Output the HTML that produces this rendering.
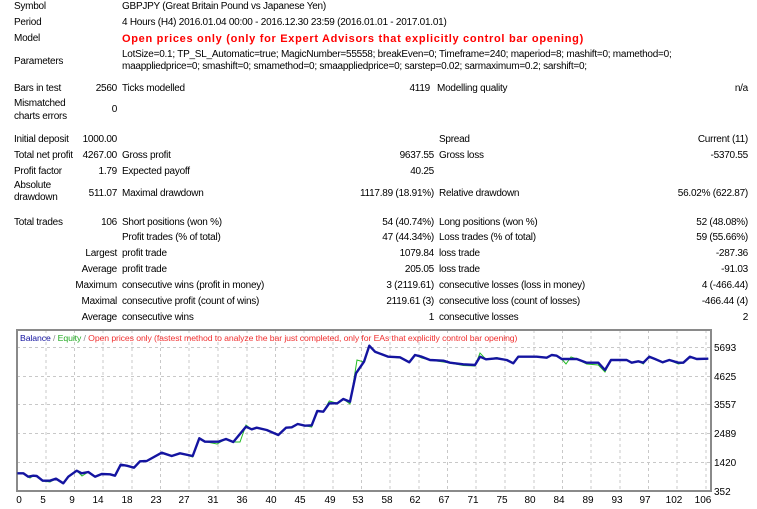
<!DOCTYPE html>
<html><head><meta charset="utf-8"><style>
body{margin:0;width:757px;height:509px;background:#fff;position:relative;overflow:hidden;font-family:"Liberation Sans",sans-serif;font-size:10px;letter-spacing:-0.25px;color:#000}
.t{position:absolute;line-height:14px;white-space:nowrap}
.r{text-align:right}
.red{color:#f00;font-weight:bold;font-size:11px;letter-spacing:0.7px}
</style></head><body>
<div class="t" style="left:14px;top:0">Symbol</div>
<div class="t" style="left:122px;top:0">GBPJPY (Great Britain Pound vs Japanese Yen)</div>
<div class="t" style="left:14px;top:16px">Period</div>
<div class="t" style="left:122px;top:16px">4 Hours (H4) 2016.01.04 00:00 - 2016.12.30 23:59 (2016.01.01 - 2017.01.01)</div>
<div class="t" style="left:14px;top:32px">Model</div>
<div class="t red" style="left:122px;top:32px">Open prices only (only for Expert Advisors that explicitly control bar opening)</div>
<div class="t" style="left:14px;top:55px">Parameters</div>
<div class="t" style="left:122px;top:48px">LotSize=0.1; TP_SL_Automatic=true; MagicNumber=55558; breakEven=0; Timeframe=240; maperiod=8; mashift=0; mamethod=0;</div>
<div class="t" style="left:122px;top:60px">maappliedprice=0; smashift=0; smamethod=0; smaappliedprice=0; sarstep=0.02; sarmaximum=0.2; sarshift=0;</div>
<div class="t" style="left:14px;top:82px">Bars in test</div>
<div class="t r" style="right:640px;top:82px">2560</div>
<div class="t" style="left:122px;top:82px">Ticks modelled</div>
<div class="t r" style="right:327px;top:82px">4119</div>
<div class="t" style="left:437px;top:82px">Modelling quality</div>
<div class="t r" style="right:9px;top:82px">n/a</div>
<div class="t" style="left:14px;top:97px;line-height:13px">Mismatched<br>charts errors</div>
<div class="t r" style="right:640px;top:103px">0</div>

<div class="t" style="left:14px;top:133px">Initial deposit</div>
<div class="t r" style="right:640px;top:133px">1000.00</div>
<div class="t" style="left:439px;top:133px">Spread</div>
<div class="t r" style="right:9px;top:133px">Current (11)</div>

<div class="t" style="left:14px;top:149px">Total net profit</div>
<div class="t r" style="right:640px;top:149px">4267.00</div>
<div class="t" style="left:122px;top:149px">Gross profit</div>
<div class="t r" style="right:323px;top:149px">9637.55</div>
<div class="t" style="left:439px;top:149px">Gross loss</div>
<div class="t r" style="right:9px;top:149px">-5370.55</div>

<div class="t" style="left:14px;top:165px">Profit factor</div>
<div class="t r" style="right:640px;top:165px">1.79</div>
<div class="t" style="left:122px;top:165px">Expected payoff</div>
<div class="t r" style="right:323px;top:165px">40.25</div>

<div class="t" style="left:14px;top:180px;line-height:12px">Absolute<br>drawdown</div>
<div class="t r" style="right:640px;top:187px">511.07</div>
<div class="t" style="left:122px;top:187px">Maximal drawdown</div>
<div class="t r" style="right:323px;top:187px">1117.89 (18.91%)</div>
<div class="t" style="left:439px;top:187px">Relative drawdown</div>
<div class="t r" style="right:9px;top:187px">56.02% (622.87)</div>

<div class="t" style="left:14px;top:216px">Total trades</div>
<div class="t r" style="right:640px;top:216px">106</div>
<div class="t" style="left:122px;top:216px">Short positions (won %)</div>
<div class="t r" style="right:323px;top:216px">54 (40.74%)</div>
<div class="t" style="left:439px;top:216px">Long positions (won %)</div>
<div class="t r" style="right:9px;top:216px">52 (48.08%)</div>

<div class="t" style="left:122px;top:231px">Profit trades (% of total)</div>
<div class="t r" style="right:323px;top:231px">47 (44.34%)</div>
<div class="t" style="left:439px;top:231px">Loss trades (% of total)</div>
<div class="t r" style="right:9px;top:231px">59 (55.66%)</div>

<div class="t r" style="right:640px;top:247px">Largest</div>
<div class="t" style="left:122px;top:247px">profit trade</div>
<div class="t r" style="right:323px;top:247px">1079.84</div>
<div class="t" style="left:439px;top:247px">loss trade</div>
<div class="t r" style="right:9px;top:247px">-287.36</div>

<div class="t r" style="right:640px;top:263px">Average</div>
<div class="t" style="left:122px;top:263px">profit trade</div>
<div class="t r" style="right:323px;top:263px">205.05</div>
<div class="t" style="left:439px;top:263px">loss trade</div>
<div class="t r" style="right:9px;top:263px">-91.03</div>

<div class="t r" style="right:640px;top:279px">Maximum</div>
<div class="t" style="left:122px;top:279px">consecutive wins (profit in money)</div>
<div class="t r" style="right:323px;top:279px">3 (2119.61)</div>
<div class="t" style="left:439px;top:279px">consecutive losses (loss in money)</div>
<div class="t r" style="right:9px;top:279px">4 (-466.44)</div>

<div class="t r" style="right:640px;top:295px">Maximal</div>
<div class="t" style="left:122px;top:295px">consecutive profit (count of wins)</div>
<div class="t r" style="right:323px;top:295px">2119.61 (3)</div>
<div class="t" style="left:439px;top:295px">consecutive loss (count of losses)</div>
<div class="t r" style="right:9px;top:295px">-466.44 (4)</div>

<div class="t r" style="right:640px;top:311px">Average</div>
<div class="t" style="left:122px;top:311px">consecutive wins</div>
<div class="t r" style="right:323px;top:311px">1</div>
<div class="t" style="left:439px;top:311px">consecutive losses</div>
<div class="t r" style="right:9px;top:311px">2</div>

<svg width="757" height="509" style="position:absolute;left:0;top:0;letter-spacing:0" xmlns="http://www.w3.org/2000/svg">
<g stroke="#c8c8c8" stroke-dasharray="3,3" stroke-width="1">
<line x1="17" x2="711" y1="347.5" y2="347.5"/><line x1="17" x2="711" y1="376.5" y2="376.5"/><line x1="17" x2="711" y1="404.5" y2="404.5"/><line x1="17" x2="711" y1="433.5" y2="433.5"/><line x1="17" x2="711" y1="462.5" y2="462.5"/>
<line x1="46" x2="46" y1="330" y2="491"/><line x1="74.5" x2="74.5" y1="330" y2="491"/><line x1="103" x2="103" y1="330" y2="491"/><line x1="132" x2="132" y1="330" y2="491"/><line x1="160.5" x2="160.5" y1="330" y2="491"/><line x1="189" x2="189" y1="330" y2="491"/><line x1="218" x2="218" y1="330" y2="491"/><line x1="247" x2="247" y1="330" y2="491"/><line x1="275.5" x2="275.5" y1="330" y2="491"/><line x1="304" x2="304" y1="330" y2="491"/><line x1="333" x2="333" y1="330" y2="491"/><line x1="361.5" x2="361.5" y1="330" y2="491"/><line x1="390" x2="390" y1="330" y2="491"/><line x1="419" x2="419" y1="330" y2="491"/><line x1="447.5" x2="447.5" y1="330" y2="491"/><line x1="476" x2="476" y1="330" y2="491"/><line x1="505" x2="505" y1="330" y2="491"/><line x1="534" x2="534" y1="330" y2="491"/><line x1="562.5" x2="562.5" y1="330" y2="491"/><line x1="591" x2="591" y1="330" y2="491"/><line x1="620" x2="620" y1="330" y2="491"/><line x1="648.5" x2="648.5" y1="330" y2="491"/><line x1="677" x2="677" y1="330" y2="491"/><line x1="706" x2="706" y1="330" y2="491"/>
</g>
<rect x="17" y="330" width="694" height="161" fill="none" stroke="#8a8a8a" stroke-width="2"/>
<polyline fill="none" stroke="#22bb22" stroke-width="1" points="17.3,473.3 23.3,473.3 30,478 33.3,475.7 36.7,476 42.7,481 50,482 56,478.7 63.3,483.3 68.3,476.7 76.7,470.7 82,476 88.3,472 95,476.7 101.7,474 110,474.3 115,475.7 120.7,464.7 126.7,465.7 134,467.7 140,461.3 146.7,461 161.7,452.7 171.7,456 180,453.3 192.7,457 199.3,438.3 205,441.7 217,444 226,439 233.3,442 240,442 246,425 251.7,429.3 256.7,427.7 266.7,430 278.3,435 286,427.7 291.7,427.3 297.7,424 305,425.7 311.7,427 317.3,411 323.3,411.7 329.3,401 337.3,403.3 343.3,399 350,404 357,360 364,362 369.3,345.7 375,351.7 381.7,354.3 390,357 400,358 409.3,362.3 415,355 421.7,358 430,360 443.3,362 450,363 463.3,365.5 475,366 480,353 486,359.3 496.7,357.5 506.7,360 513.3,363 518.3,356.7 536.7,356.5 546.7,357.7 551.7,355 556.7,355.7 561.7,359 566,364 571,357 576.7,359 586.7,364 598.3,365 605,372 611,360 626.7,360 631.7,362.7 638.3,361.3 643.3,364 649.3,356 655,359 662.7,363 669.3,360 678.3,364 683.3,363 690,356.7 696.7,359 708.3,358.7"/>
<polyline fill="none" stroke="#1414a0" stroke-width="2.4" stroke-linejoin="round" points="17.3,473.3 23.3,473.3 28.3,476.7 33.3,475.7 36.7,476 42.7,480.7 50,480.7 56,478.7 63.3,483.3 68.3,476.7 76.7,470.7 81.7,473.3 88.3,472 95,476.7 101.7,474 110,474.3 115,475.7 120.7,464.7 126.7,465.7 134,467.7 140,461.3 146.7,461 161.7,452.7 171.7,456 180,453.3 192.7,456 199.3,438.3 205,441.7 218.3,441.7 226,439 233.3,442 246,426.7 251.7,429.3 256.7,427.7 266.7,430 278.3,435 286,427.7 291.7,427.3 297.7,424 305,425.7 311.7,425.3 317.3,411 323.3,411.7 329.3,403.3 337.3,403.3 343.3,399 350,401.7 356,373.3 364,361.7 369.3,345.7 375,351.7 381.7,354.3 388.3,356.7 400,357.3 409.3,362.3 415,355 421.7,356.7 430,360 443.3,360.7 450,362.7 463.3,364.3 475,365 480,356.7 486,359.3 496.7,358.3 506.7,360 513.3,363.3 518.3,356.7 536.7,356.7 546.7,357.7 551.7,355 556.7,355.7 561.7,359 576.7,359 586.7,362.7 598.3,362.7 605,370 611,360 626.7,360 631.7,362.7 638.3,361.3 643.3,362.7 649.3,356.7 655,359 662.7,362.3 669.3,360 678.3,362.7 683.3,362.7 690,356.7 696.7,359 708.3,358.7"/>
<g font-family="Liberation Sans, sans-serif" font-size="10" fill="#000">
<text x="714" y="351">5693</text><text x="714" y="380">4625</text><text x="714" y="408">3557</text><text x="714" y="437">2489</text><text x="714" y="466">1420</text><text x="714" y="495">352</text>
<g text-anchor="middle">
<text x="19" y="503">0</text><text x="43" y="503">5</text><text x="72" y="503">9</text><text x="98" y="503">14</text><text x="127" y="503">18</text><text x="156" y="503">23</text><text x="184" y="503">27</text><text x="213" y="503">31</text><text x="242" y="503">36</text><text x="271" y="503">40</text><text x="300" y="503">45</text><text x="330" y="503">49</text><text x="358" y="503">53</text><text x="387" y="503">58</text><text x="415" y="503">62</text><text x="444" y="503">67</text><text x="473" y="503">71</text><text x="502" y="503">75</text><text x="530" y="503">80</text><text x="559" y="503">84</text><text x="588" y="503">89</text><text x="617" y="503">93</text><text x="645" y="503">97</text><text x="674" y="503">102</text><text x="703" y="503">106</text>
</g>
<text x="20" y="341" font-size="8.7" letter-spacing="-0.1"><tspan fill="#1414a0">Balance</tspan><tspan fill="#888"> / </tspan><tspan fill="#22aa22">Equity</tspan><tspan fill="#888"> / </tspan><tspan fill="#f03030">Open prices only (fastest method to analyze the bar just completed, only for EAs that explicitly control bar opening)</tspan></text>
</g>
</svg>
</body></html>
